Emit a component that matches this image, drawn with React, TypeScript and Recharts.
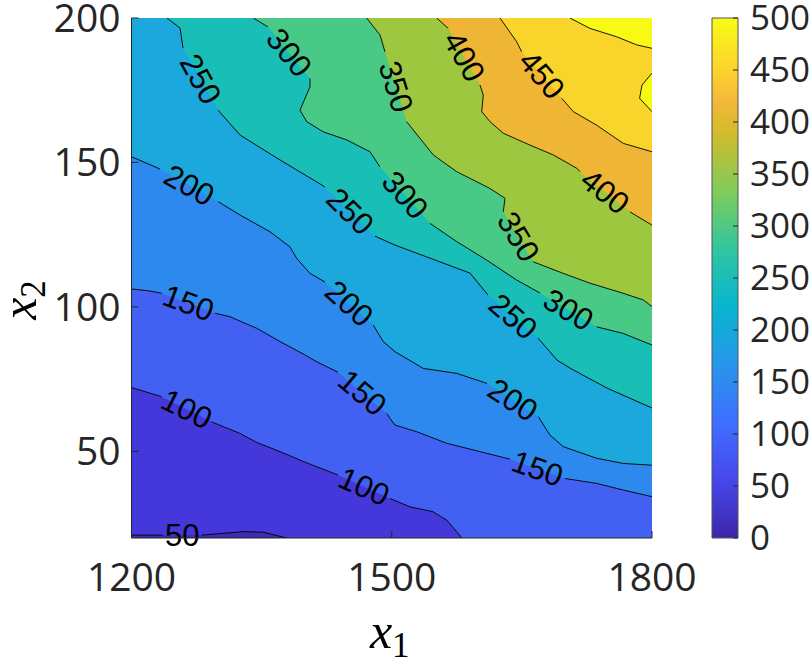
import React from "react";
import {
  ComposedChart,
  BarChart,
  Area,
  Line,
  Bar,
  XAxis,
  YAxis,
  CartesianGrid,
  ReferenceLine,
  Label,
} from "recharts";

const X1_TICKS = [1200, 1500, 1800];
const X2_TICKS = [50, 100, 150, 200];
const CBAR_TICKS = [0, 50, 100, 150, 200, 250, 300, 350, 400, 450, 500];
const LEVELS = [50, 100, 150, 200, 250, 300, 350, 400, 450, 500];

// contour paths as [x1, x2] pairs
const c50 = [[1200, 21], [1236, 21], [1281, 21], [1329, 22.2], [1352, 22], [1379, 20]];
const c100 = [[1200, 72.1], [1234.8, 68.9], [1292.4, 60.2], [1325.1, 56.2], [1344.3, 53.1], [1371.2, 49.9], [1398, 46.5], [1438, 41.8], [1498, 33.7], [1521, 30.8], [1547.5, 29.1], [1563.3, 26.2], [1574.9, 22.2], [1580.6, 20]];
const c150 = [[1200, 106.2], [1221.3, 105.5], [1234.8, 104.7], [1296.2, 97.8], [1313.5, 96.6], [1344.3, 92.6], [1371.2, 88], [1398, 83.7], [1413.5, 81], [1438, 77.4], [1494.2, 63.1], [1498, 61.4], [1503.7, 59.1], [1528.7, 56.8], [1563.3, 52.8], [1609.4, 49.3], [1636.3, 47.3], [1699.7, 40.6], [1736.2, 38.9], [1766.9, 36.6], [1800, 34.3]];
const c200 = [[1200, 152], [1232.9, 147.7], [1300, 136.4], [1325.1, 131.8], [1359.6, 126], [1382.7, 120.8], [1390.4, 116.8], [1405.8, 111.6], [1423, 108.6], [1478.7, 93.7], [1490.2, 88], [1503.7, 84.5], [1536.4, 78.7], [1574.9, 77], [1609.8, 73.5], [1668.9, 62], [1682.4, 55.6], [1697.8, 51.6], [1736.2, 47.6], [1766.9, 45.8], [1800, 45.2]];
const c250 = [[1241, 200], [1256, 196.5], [1259.4, 189.6], [1299.7, 168.1], [1325.1, 159.5], [1367.7, 151.5], [1413.8, 143.2], [1423, 141.5], [1480.7, 124.5], [1503.7, 121.4], [1590.2, 111.7], [1611, 104.1], [1668.6, 89.2], [1690.5, 81.6], [1705.5, 78.8], [1748.1, 71.9], [1800, 65]];
const c300 = [[1340.4, 200], [1357.3, 196.9], [1405.8, 179.1], [1405.8, 176.2], [1394.2, 168.1], [1402, 164.1], [1421.1, 160.6], [1448.1, 157.8], [1474.9, 153.7], [1486.4, 148.5], [1544.1, 128.9], [1574.9, 122.6], [1609.4, 116.2], [1644, 109.3], [1670.9, 104.8], [1736.2, 93.1], [1766.9, 90.8], [1800, 86.8]];
const c350 = [[1471.1, 200], [1486.5, 194.1], [1492.2, 188.3], [1517.2, 164.1], [1547.9, 152.6], [1574.9, 146.8], [1613.2, 141], [1630.5, 137.6], [1628.6, 132.9], [1663.1, 115.6], [1697.7, 111.6], [1728.5, 108.2], [1766.9, 104.7], [1790, 102.4], [1800, 100.1]];
const c400 = [[1551.8, 200], [1565.2, 196.4], [1601.7, 176.8], [1605.5, 173.3], [1603.7, 167.6], [1613.3, 164.1], [1628.6, 160.1], [1659.4, 156], [1686.2, 152.6], [1713.2, 148], [1717, 146.8], [1774.6, 132.9], [1800, 128.3]];
const c450 = [[1624.8, 200], [1644, 191.8], [1649.8, 188.3], [1695.9, 172.2], [1709.3, 167.6], [1736.2, 162.9], [1766.9, 156.6], [1800, 153.7]];
const c500 = [[1705.4, 200], [1728.5, 196.4], [1759.3, 193.5], [1782.3, 190.7], [1800, 189.5]];

// label sits between pts[i] and pts[i + 1]
const gaps50 = [1];
const gaps100 = [1, 7];
const gaps150 = [2, 9, 16];
const gaps200 = [1, 8, 14];
const gaps250 = [2, 7, 11];
const gaps300 = [1, 9, 14];
const gaps350 = [2, 8];
const gaps400 = [1, 10];
const gaps450 = [2];
const gaps500: number[] = [];

// small closed >500 patch on the right edge
const islandX1 = [1785.7, 1788.5, 1800];
const islandLo = [172.2, 171.3, 167.6];
const islandHi = [172.2, 176.8, 180.9];

// fill of the band just under each level
const BAND_BELOW = ["#3e2db3", "#4438da", "#4261f3", "#2d89ee", "#1ca7dd", "#19bfb6", "#49c986", "#9dc73f", "#efb534", "#f9d42a"];
const TOP_BAND = "#f8f915";

const PARULA = ["#3e26a8", "#4747eb", "#3e6fff", "#2796eb", "#08b5d0", "#31c69f", "#80cc59", "#d2bb2b", "#f5b83a", "#fccf30", "#f9fb14"];
const PARULA_AT = [0, 0.111, 0.222, 0.333, 0.444, 0.556, 0.667, 0.778, 0.84, 0.889, 1];

const paths = [c50, c100, c150, c200, c250, c300, c350, c400, c450, c500];
const gapLists = [gaps50, gaps100, gaps150, gaps200, gaps250, gaps300, gaps350, gaps400, gaps450, gaps500];

const toPts = (p: number[][]) => p.map(([x, y]) => ({ x, y }));
const areaData = (p: number[][]) => (p[0][1] >= 200 ? [{ x: 1200, y: 200 }, ...toPts(p)] : toPts(p));
const lineData = (p: number[][], gaps: number[]) => {
  const out: { x: number; y: number | null }[] = [];
  p.forEach(([x, y], i) => {
    out.push({ x, y });
    if (gaps.includes(i)) out.push({ x: (x + p[i + 1][0]) / 2, y: null });
  });
  return out;
};
const islandData = islandX1.map((x, i) => ({ x, r: [islandLo[i], islandHi[i]] }));

const TICK_FONT = "'Open Sans', 'Liberation Sans', sans-serif";

const contourLabel = (text: string) => (props: any) => {
  const { x1, y1, x2, y2 } = props;
  const cx = (x1 + x2) / 2;
  const cy = (y1 + y2) / 2;
  let ang = (Math.atan2(y2 - y1, x2 - x1) * 180) / Math.PI;
  if (ang > 90) ang -= 180;
  if (ang < -90) ang += 180;
  return (
    <text
      x={cx}
      y={cy}
      transform={`rotate(${ang} ${cx} ${cy})`}
      textAnchor="middle"
      dominantBaseline="central"
      fontFamily="'Liberation Sans', Arial, sans-serif"
      fontSize={31}
      fill="#000"
    >
      {text}
    </text>
  );
};

const xTitle = (props: any) => {
  const vb = props.viewBox ?? { x: 131.5, y: 538, width: 520.5, height: 127 };
  const cx = vb.x + vb.width / 2 - 2;
  return (
    <text x={cx} y={648} textAnchor="middle" fontFamily="'Liberation Serif', serif" fontSize={50} fill="#000">
      <tspan fontStyle="italic">x</tspan>
      <tspan fontSize={35} dy={9}>1</tspan>
    </text>
  );
};

const yTitle = () => {
  const cx = 36;
  const cy = 300;
  return (
    <text
      x={cx}
      y={cy}
      transform={`rotate(-90 ${cx} ${cy})`}
      textAnchor="middle"
      fontFamily="'Liberation Serif', serif"
      fontSize={50}
      fill="#000"
    >
      <tspan fontStyle="italic">x</tspan>
      <tspan fontSize={35} dy={9}>2</tspan>
    </text>
  );
};

function ColorBar() {
  return (
    <BarChart width={110} height={665} data={[{ k: "c", v: 500 }]} margin={{ top: 18, right: 0, bottom: 127, left: 12 }} barCategoryGap={0}>
      <defs>
        <linearGradient id="parula" x1="0" y1="1" x2="0" y2="0">
          {PARULA.map((c, i) => (
            <stop key={i} offset={PARULA_AT[i]} stopColor={c} />
          ))}
        </linearGradient>
      </defs>
      <XAxis dataKey="k" hide />
      <YAxis
        orientation="right"
        width={72}
        type="number"
        domain={[0, 500]}
        ticks={CBAR_TICKS}
        interval={0}
        axisLine={false}
        tickSize={-5}
        tickMargin={17}
        tickLine={{ stroke: "#262626" }}
        tick={{ fill: "#262626", fontSize: 35, fontFamily: TICK_FONT, textAnchor: "start" }}
      />
      <Bar dataKey="v" fill="url(#parula)" stroke="#555" strokeWidth={1} isAnimationActive={false} />
    </BarChart>
  );
}

export default function App() {
  return (
    <div style={{ position: "absolute", left: 0, top: 0, width: 810, height: 665, background: "#fff" }}>
      <div style={{ position: "absolute", left: 0, top: 0 }}>
        <ComposedChart width={810} height={665} margin={{ top: 18, right: 158, bottom: 0, left: 0 }}>
          <CartesianGrid horizontal={false} vertical={false} fill={TOP_BAND} stroke="none" />
          <XAxis
            dataKey="x"
            type="number"
            domain={[1200, 1800]}
            allowDataOverflow
            ticks={X1_TICKS}
            interval={0}
            height={127}
            tickSize={-7}
            tickMargin={32}
            stroke="#262626"
            tick={{ fill: "#262626", fontSize: 39, fontFamily: TICK_FONT }}
          >
            <Label content={xTitle} />
          </XAxis>
          <XAxis
            xAxisId="top"
            orientation="top"
            type="number"
            domain={[1200, 1800]}
            allowDataOverflow
            ticks={X1_TICKS}
            height={0}
            tickSize={-7}
            tick={false}
            stroke="#262626"
          />
          <YAxis
            type="number"
            domain={[20, 200]}
            allowDataOverflow
            ticks={X2_TICKS}
            interval={0}
            width={131.5}
            tickSize={-7}
            tickMargin={18}
            stroke="#262626"
            tick={{ fill: "#262626", fontSize: 39, fontFamily: TICK_FONT }}
          >
            <Label content={yTitle} />
          </YAxis>
          <YAxis
            yAxisId="right"
            orientation="right"
            type="number"
            domain={[20, 200]}
            allowDataOverflow
            ticks={X2_TICKS}
            width={0}
            tickSize={-7}
            tick={false}
            stroke="#262626"
          />

          {[...LEVELS].reverse().map((lv) => {
            const i = LEVELS.indexOf(lv);
            return (
              <Area
                key={`a${lv}`}
                data={areaData(paths[i])}
                dataKey="y"
                type="linear"
                baseValue={20}
                fill={BAND_BELOW[i]}
                fillOpacity={1}
                stroke="none"
                dot={false}
                activeDot={false}
                isAnimationActive={false}
              />
            );
          })}
          <Area
            data={islandData}
            dataKey="r"
            type="linear"
            fill={TOP_BAND}
            fillOpacity={1}
            stroke="#000"
            strokeWidth={0.9}
            dot={false}
            activeDot={false}
            isAnimationActive={false}
          />

          {LEVELS.map((lv, i) => (
            <Line
              key={`l${lv}`}
              data={lineData(paths[i], gapLists[i])}
              dataKey="y"
              type="linear"
              stroke="#000"
              strokeWidth={0.9}
              dot={false}
              activeDot={false}
              connectNulls={false}
              isAnimationActive={false}
            />
          ))}

          {LEVELS.flatMap((lv, i) =>
            gapLists[i].map((g) => (
              <ReferenceLine
                key={`t${lv}-${g}`}
                ifOverflow="visible"
                segment={[
                  { x: paths[i][g][0], y: paths[i][g][1] },
                  { x: paths[i][g + 1][0], y: paths[i][g + 1][1] },
                ]}
                shape={contourLabel(String(lv))}
              />
            ))
          )}
        </ComposedChart>
      </div>
      <div style={{ position: "absolute", left: 700, top: 0 }}>
        <ColorBar />
      </div>
    </div>
  );
}
